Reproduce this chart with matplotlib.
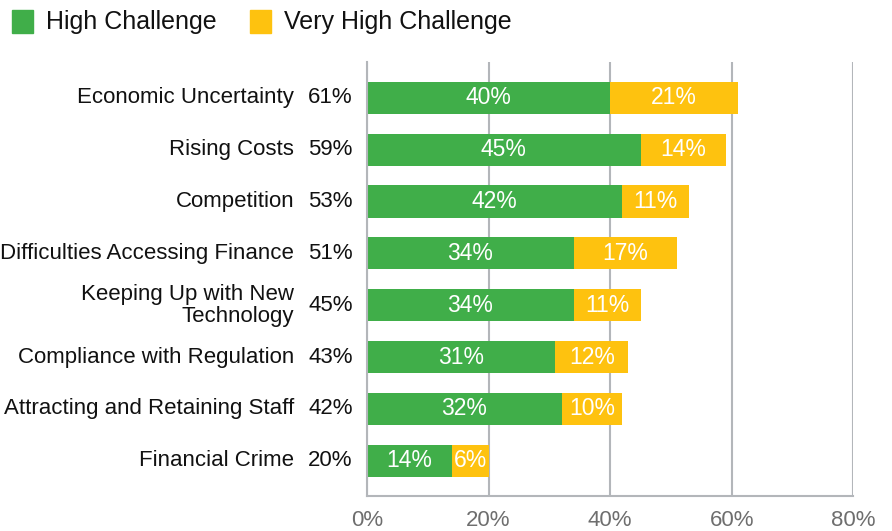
import matplotlib
matplotlib.use("Agg")
import matplotlib.pyplot as plt
from matplotlib.patches import Rectangle

plt.rcParams['font.family'] = ['Liberation Sans Narrow', 'Liberation Sans', 'DejaVu Sans']

categories = ["Economic Uncertainty", "Rising Costs", "Competition",
              "Difficulties Accessing Finance", "Keeping Up with New\nTechnology",
              "Compliance with Regulation", "Attracting and Retaining Staff",
              "Financial Crime"]
high = [40, 45, 42, 34, 34, 31, 32, 14]
very_high = [21, 14, 11, 17, 11, 12, 10, 6]
totals = [61, 59, 53, 51, 45, 43, 42, 20]
x_ticks = [0, 20, 40, 60, 80]
series_names = ["High Challenge", "Very High Challenge"]

green = "#40AE49"
yellow = "#FEC20F"
grey = "#B3B6BA"

fig = plt.figure(figsize=(8.92, 5.31), dpi=100)
ax = fig.add_axes([0.4115, 0.066, 0.545, 0.817])

y = list(range(len(categories)))
ax.barh(y, high, height=0.62, color=green)
ax.barh(y, very_high, left=high, height=0.62, color=yellow)

for i in y:
    ax.text(high[i] / 2, i, f"{high[i]}%", color="white", fontsize=16.5,
            ha="center", va="center")
    ax.text(high[i] + very_high[i] / 2, i, f"{very_high[i]}%", color="white",
            fontsize=16.5, ha="center", va="center")
    # total label left of axis
    ax.text(-6, i, f"{totals[i]}%", fontsize=16, ha="center", va="center",
            color="#111111")
    ax.text(-12, i, categories[i], fontsize=16, ha="right", va="center",
            color="#111111", linespacing=1.05)

ax.set_xlim(0, 80)
ax.set_ylim(7.68, -0.69)
ax.set_xticks(x_ticks)
ax.set_xticklabels([f"{t}%" for t in x_ticks], fontsize=16, color="#6E6E6E")
ax.set_yticks([])
ax.tick_params(axis="x", length=0, pad=10)
ax.grid(axis="x", color=grey, linewidth=1.5)
ax.set_axisbelow(True)
for s in ["top", "right"]:
    ax.spines[s].set_visible(False)
for s in ["left", "bottom"]:
    ax.spines[s].set_color(grey)
    ax.spines[s].set_linewidth(1.5)

# legend drawn by hand in figure pixels
W, H = 892, 531
for name, col, x0 in zip(series_names, [green, yellow], [12, 250]):
    fig.patches.append(Rectangle((x0 / W, 1 - 33 / H), 21 / W, 23 / H,
                                 color=col, transform=fig.transFigure))
    fig.text((x0 + 34) / W, 1 - 21.5 / H, name, fontsize=18, va="center",
             ha="left", color="#111111")

fig.savefig("out.png", dpi=100)
